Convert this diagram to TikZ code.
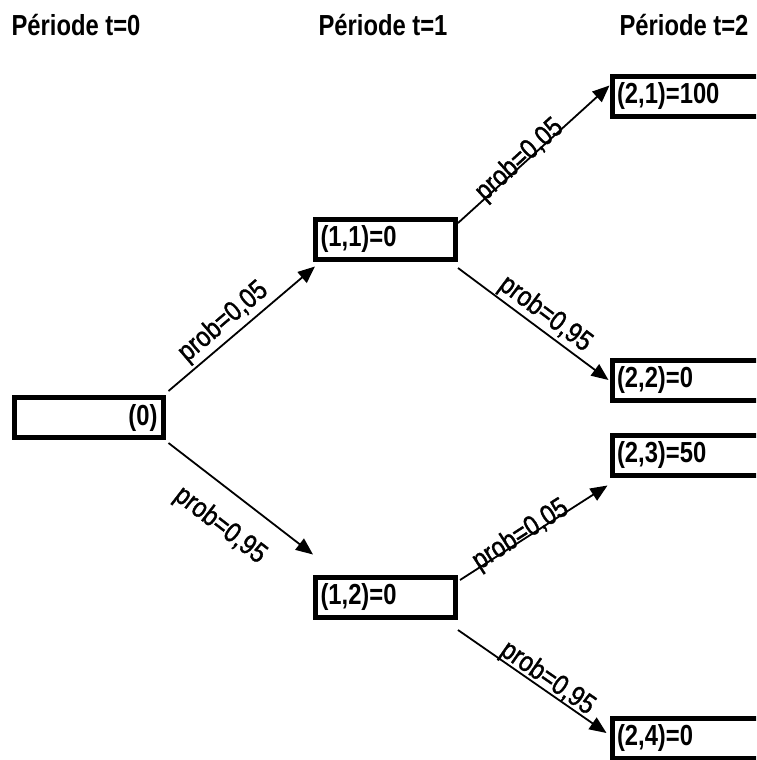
\documentclass[tikz,border=0pt]{standalone}
\usepackage{fontspec}
\setmainfont{Liberation Sans}
\newfontfamily\cf{Liberation Sans}[FakeStretch=0.82]
\newfontfamily\lf{Liberation Sans}[FakeStretch=0.85,FakeBold=1.2]
\usetikzlibrary{arrows.meta}
\begin{document}
\begin{tikzpicture}[x=1pt,y=-1pt,
  hdr/.style={font=\cf\bfseries\fontsize{29}{34}\selectfont, anchor=base},
  state/.style={draw, line width=5pt, minimum height=40pt, inner xsep=5pt, inner ysep=0pt,
    text width=130pt, align=left, font=\cf\bfseries\fontsize{29}{34}\selectfont},
  wide/.style={text width=170pt, anchor=west},
  conn/.style={line width=1.8pt, -{Triangle[length=17pt,width=14pt]}},
  lbl/.style={font=\lf\fontsize{28}{34}\selectfont, sloped, inner sep=1pt}]
\useasboundingbox (0,0) rectangle (756,760);
\clip (0,0) rectangle (756,760);
% headers
\node[hdr] (h0) at (76,36) {Période t=0};
\node[hdr] (h1) at (383,36) {Période t=1};
\node[hdr] (h2) at (684,36) {Période t=2};
% states
\node[state, text width=137pt, align=right, inner xsep=6pt] (n0) at (89,417.5) {(0)};
\node[state] (n11) at (385.5,239) {(1,1)=0};
\node[state] (n12) at (385.5,597) {(1,2)=0};
\node[state, wide] (n21) at (609.5,96) {(2,1)=100};
\node[state, wide] (n22) at (609.5,380) {(2,2)=0};
\node[state, wide] (n23) at (609.5,455) {(2,3)=50};
\node[state, wide] (n24) at (609.5,738) {(2,4)=0};
% arrow end points
\coordinate (a0) at ([shift={(2.5,-4)}]n0.north east);
\coordinate (b0) at ([shift={(2.5,3)}]n0.south east);
\coordinate (t11) at ([shift={(2,5)}]n11.south west);
\coordinate (t12) at ([shift={(0,-20)}]n12.north west);
\coordinate (a11) at ([shift={(0,-16)}]n11.east);
\coordinate (b11) at ([shift={(0,29)}]n11.east);
\coordinate (a12) at ([shift={(2,-17)}]n12.east);
\coordinate (b12) at ([shift={(0,33)}]n12.east);
\coordinate (t21) at ([shift={(0,12)}]n21.north west);
\coordinate (t22) at ([shift={(-1,0)}]n22.west);
\coordinate (t23) at ([shift={(-2,8)}]n23.south west);
\coordinate (t24) at ([shift={(-3,-5)}]n24.west);
% connectors
\draw[conn] (a0) -- node[lbl, pos=0.45, above=2pt] {prob=0,05} (t11);
\draw[conn] (b0) -- node[lbl, pos=0.5, below=19pt] {prob=0,95} (t12);
\draw[conn] (a11) -- node[lbl, pos=0.43, above=-10pt] {prob=0,05} (t21);
\draw[conn] (b11) -- node[lbl, pos=0.52, above=0pt] {prob=0,95} (t22);
\draw[conn] (a12) -- node[lbl, pos=0.43, above=-10pt] {prob=0,05} (t23);
\draw[conn] (b12) -- node[lbl, pos=0.56, above=-4pt] {prob=0,95} (t24);
\end{tikzpicture}
\end{document}
